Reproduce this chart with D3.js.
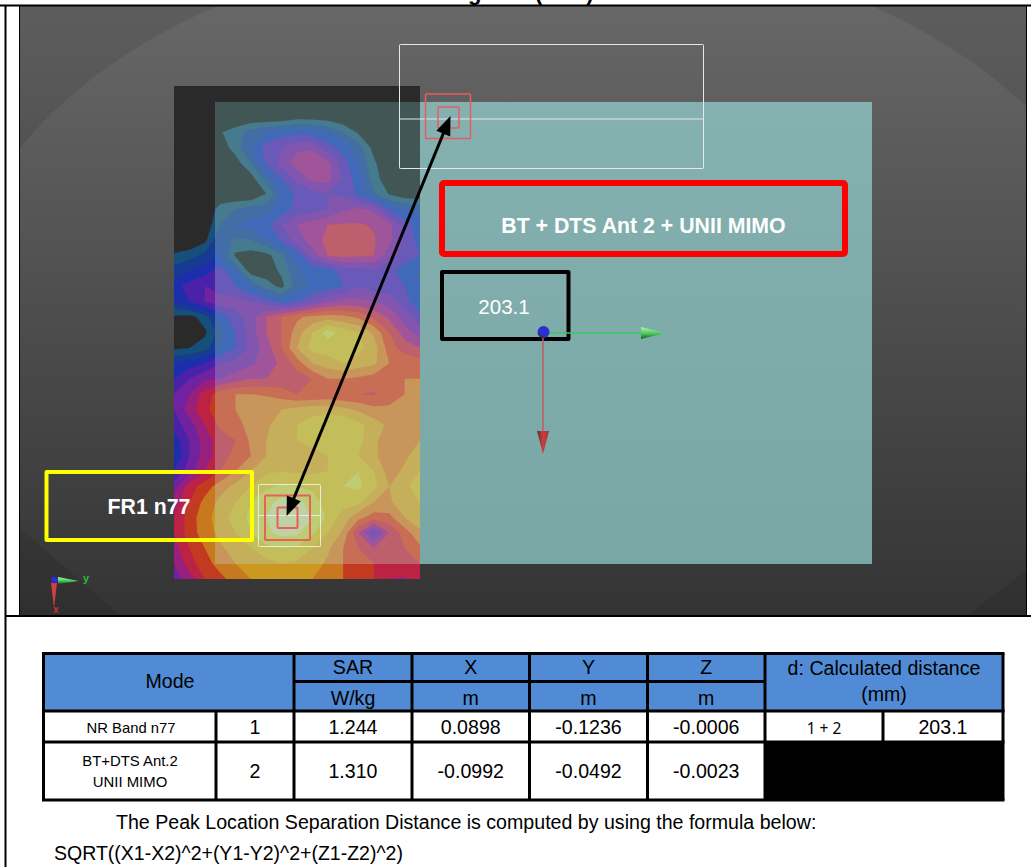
<!DOCTYPE html>
<html><head><meta charset="utf-8">
<script src="https://cdnjs.cloudflare.com/ajax/libs/d3/7.8.5/d3.min.js"></script>
<style>html,body{margin:0;padding:0;background:#fff;overflow:hidden}svg{display:block}text{font-family:"Liberation Sans",Arial,sans-serif}</style>
</head><body><svg id="c" width="1031" height="867"></svg>
<script>
// ---- data ----
const titleText = ["Figure", "(33-3)"];
const lowLabel = "FR1 n77";
const highLabel = "BT + DTS Ant 2 + UNII MIMO";
const distanceLabel = "203.1";
const modeHeader = "Mode";
const topHeaders = ["SAR", "X", "Y", "Z"];
const unitHeaders = ["W/kg", "m", "m", "m"];
const distHeader = ["d: Calculated distance", "(mm)"];
const modeNames = [["NR Band n77"], ["BT+DTS Ant.2", "UNII MIMO"]];
const modeIds = ["1", "2"];
const sarValues = ["1.244", "1.310"];
const xValues = ["0.0898", "-0.0992"];
const yValues = ["-0.1236", "-0.0492"];
const zValues = ["-0.0006", "-0.0023"];
const pairLabel = "1 + 2";
const pairDistance = "203.1";
const noteLines = ["The Peak Location Separation Distance is computed by using the formula below:", "SQRT((X1-X2)^2+(Y1-Y2)^2+(Z1-Z2)^2)"];
// SAR contour level per scan grid point (17 columns, 33 rows)
const sarGrid = [
[0,0,0,0,0,0,0,0,0,0,0,0,0,0,0,0,0],
[0,0,0,0,0,0,0,0,0,0,0,0,0,0,0,0,0],
[0,0,0,0,0,0,0,0,.5,.5,.3,0,0,0,0,0,0],
[0,0,0,.9,1.5,2.5,3,3.5,3.7,3.5,3,2,.8,0,0,0,0],
[0,0,0,.3,1.5,3,4.5,5,5.8,5.8,4.5,3.5,2.5,.6,0,0,0],
[0,0,0,0,.5,2,4.2,5.3,6.5,6.8,6.3,4.5,3,1.2,0,0,0],
[0,0,0,0,0,.5,2.5,4,5.3,6.3,6.4,4.8,3.5,1.5,.2,0,0],
[0,0,0,0,0,0,1,3,4.3,4.6,5,4.8,3.7,2.2,.9,.2,0],
[0,0,0,1.5,2,2.4,2.6,3.5,4.3,4.6,5,5.8,6.2,5.8,3.8,3,2.8],
[0,0,.2,2,3,3.4,3.6,5,6,6.5,7,7.1,7.1,6.9,6.3,4.5,3.4],
[0,0,.7,3,1.8,2,3,4.2,5.5,6.5,7.3,7.5,7.4,7.1,6.3,4.8,3.5],
[1.2,1.6,2.3,3.2,.8,.5,.6,1.8,3.5,5.5,7,7.3,7.2,7,5.5,4.5,4],
[2.5,3,3.5,4.5,3,.4,.4,1.2,2.8,3.3,3.4,4.5,4.5,4.8,4.3,3.5,2.8],
[3.5,4.5,5,4.5,4,3,1.5,.7,2.5,3.2,3.5,4,5,4.5,4.5,4,3],
[3,4,5,5.5,5.5,5,4.5,3.5,4,5,5.8,6.3,6.3,6,5.5,4.5,3],
[.8,.6,1.5,3.5,4.5,5.5,7,8,8.8,9.3,9.5,9.3,8.8,7.8,6.8,5.5,4.5],
[.3,.4,.8,2.5,4,5.5,7,8,9.5,11,12.5,11.5,11,9.8,8,6.5,5.5],
[.8,1,1.5,3,4,5.3,6.5,8,10,11.4,11.5,11.4,11.3,10.5,8.5,7.5,7],
[3,3.5,4,5,5.3,5.8,6.5,7.2,8.5,10,10.5,11,10.5,10.2,9,8.8,8.5],
[4,5,5.8,6,6.5,7,7,7.3,7.5,8,9,9,8.8,8.5,8.8,9,9],
[5,6,7.5,8.5,9,9,8.9,8.5,8,8,8.2,8,8,7.9,8.5,9,9.2],
[5,6.5,7.8,8.5,9,9.3,9.6,10,10.3,10.6,10.6,10.3,9.8,9.3,9.2,9.2,9.5],
[4.5,5.5,7,8.2,8.8,9.2,9.8,10.5,11,11.5,12,12,11.3,10.5,9.8,9.6,9.7],
[3.5,5,6.5,7.5,8,9.2,10,10.5,11,11.2,11.5,11.8,11.3,10.3,9.2,9.5,10],
[3,5,6.5,7.5,8.3,9,10,10.5,10.7,10.8,11,11.2,11,10.3,9,9.8,10.5],
[4,5.5,7,8,9,10,10.8,11,10.8,10.8,11,11.8,12,11,9.5,10.2,11],
[5.5,7.5,8.5,9.5,10.3,11,11.8,12.2,12,11.8,11.5,12,12.2,11.3,10,10.8,11.5],
[6.5,8,9.3,10.3,11,12,12.7,13.3,13.3,12.5,11.5,11.5,11.3,10,9.8,10.8,11],
[7,8.5,9.6,10.5,11.5,12.2,13,13.8,13.8,13,11.8,10.5,9.3,8.5,8.7,10,10.7],
[7,8.5,9.5,10.3,11,12,12.8,13.3,13.2,12.2,11,9.8,7,4.5,7,8.5,9.8],
[6.5,8,9,9.8,10.5,11,11.8,12,11.8,11,10.2,9,8,7,7.7,8,8.8],
[6,7.5,8.7,9.3,10,10.3,10.6,11,10.8,10.5,9.8,9,8.2,8,7.2,7.5,8],
[5.5,6.5,8,8.8,9.3,10,10,10,10,10,9.5,9,8.2,8,7,6.9,7.8]
];
const levels = [1,2,3,4,5,6,7,8,9,10,11,12,13];
const rawColors = ["#16507a","#173a92","#1d2eac","#4a22aa","#7022a0","#98207c","#bc2244","#c23a20","#c8781e","#cc9820","#d2b42a","#d0cc5e","#d0d898"];
const washedColors = ["#467a8e","#436ea5","#4169b9","#695ab9","#8255af","#a0559b","#be5f6e","#c86e55","#c8965a","#c6af5a","#c3be5a","#becd73","#bed2a5"];
// peak positions in picture pixels, as measured
const peakHigh = [450.5, 116];
const peakLow = [286.6, 516];

// ---- drawing ----
const svg = d3.select("#c");
const defs = svg.append("defs");
function grad(id, x2, y2, stops){
  const g = defs.append("linearGradient").attr("id", id).attr("x1",0).attr("y1",0).attr("x2",x2).attr("y2",y2);
  stops.forEach(s => g.append("stop").attr("offset", s[0]).attr("stop-color", s[1]));
}
grad("bg",0,1,[[0,"#676767"],[1,"#343434"]]);
grad("teal",0,1,[[0,"#85b1b0"],[1,"#78a7a6"]]);
grad("gc",0,1,[[0,"#b4f5a8"],[.55,"#4ac85a"],[1,"#175c2a"]]);
grad("rc",1,0,[[0,"#5a3030"],[.5,"#c84040"],[1,"#a83030"]]);
defs.append("clipPath").attr("id","mapClip").append("path").attr("d","M174,86H420V102H215V564H420V579H174Z");
defs.append("clipPath").attr("id","phantomClip").append("rect").attr("x",215).attr("y",102).attr("width",205).attr("height",462);
defs.append("clipPath").attr("id","imgClip").append("rect").attr("x",20).attr("y",6).attr("width",1006).attr("height",609);

// title clipped by the page top
const tt = svg.append("text").attr("x",448.5).attr("y",0).attr("font-size",22).attr("font-weight","bold").attr("fill","#000");
tt.append("tspan").text(titleText[0]);
tt.append("tspan").attr("x",535).text(titleText[1]);

// picture backdrop
const img = svg.append("g").attr("clip-path","url(#imgClip)");
img.append("rect").attr("x",20).attr("y",6).attr("width",1006).attr("height",609).attr("fill","url(#bg)");
[ "M20,148 Q90,62 217,6 L20,6Z",
  "M872,6 Q960,45 1026,106 L1026,6Z",
  "M20,528 L120,615 L20,615Z",
  "M967,615 L1026,571 L1026,615Z"
].forEach(d => img.append("path").attr("d",d).attr("fill","#000").attr("opacity",.09));

// SAR map
const nx = sarGrid[0].length, ny = sarGrid.length;
const sx = d3.scaleLinear().domain([.5, nx-.5]).range([174,420]);
const sy = d3.scaleLinear().domain([.5, ny-.5]).range([86,579]);
const rawColor = d3.scaleOrdinal().domain(levels).range(rawColors);
const washedColor = d3.scaleOrdinal().domain(levels).range(washedColors);
img.append("rect").attr("x",174).attr("y",86).attr("width",246).attr("height",493).attr("fill","#2a2a2a");
img.append("rect").attr("x",215).attr("y",102).attr("width",205).attr("height",462).attr("fill","#425755");
const contours = d3.contours().size([nx,ny]).smooth(true).thresholds(levels)(sarGrid.flat());
const geo = d3.geoPath(d3.geoTransform({point(x,y){this.stream.point(sx(x),sy(y));}}));
img.append("g").attr("clip-path","url(#mapClip)").selectAll("path").data(contours).join("path")
  .attr("d",geo).attr("fill",d=>rawColor(d.value));
img.append("g").attr("clip-path","url(#phantomClip)").selectAll("path").data(contours).join("path")
  .attr("d",geo).attr("fill",d=>washedColor(d.value));
// phantom
img.append("rect").attr("x",420).attr("y",102).attr("width",452).attr("height",462).attr("fill","url(#teal)");

// scan volumes
function box(x0,y0,x1,y1,stroke,w,rx){
  return img.append("rect").attr("x",x0).attr("y",y0).attr("width",x1-x0).attr("height",y1-y0).attr("rx",rx||.8)
    .attr("fill","none").attr("stroke",stroke).attr("stroke-width",w);
}
const hl = (x0,x1,y,c,w)=>img.append("line").attr("x1",x0).attr("x2",x1).attr("y1",y).attr("y2",y).attr("stroke",c).attr("stroke-width",w);
box(399.5,44.5,703.5,168.5,"#e4e8e8",1); hl(399.5,703.5,119,"#e4e8e8",1);
box(425.5,94,470.5,138.5,"#e85c62",1.5); box(438,107,459,128,"#e85c62",1.5);
box(258.5,484.5,320.5,546.5,"#e8ecd8",1); hl(258.5,320.5,515.5,"#e8ecd8",1);
box(265,495.5,310,540,"#e8605c",2); box(277.5,507.5,297.5,528,"#e8605c",2);

// annotations
box(442,183,845,254,"#ff0000",6,2);
box(442,272,568.5,339,"#000",4,.1);
box(46.5,472,252,540,"#ffff00",4,.1);
img.append("text").attr("x",643.5).attr("y",232.5).attr("text-anchor","middle").attr("font-size",21.3).attr("font-weight","bold").attr("fill","#fff").text(highLabel);
img.append("text").attr("x",504).attr("y",314).attr("text-anchor","middle").attr("font-size",20.5).attr("fill","#fff").text(distanceLabel);
img.append("text").attr("x",149).attr("y",514).attr("text-anchor","middle").attr("font-size",21.3).attr("font-weight","bold").attr("fill","#fff").text(lowLabel);

// coordinate triad on phantom
img.append("line").attr("x1",549).attr("x2",642).attr("y1",333).attr("y2",333).attr("stroke","#3ec85e").attr("stroke-width",1.5);
img.append("polygon").attr("points","641,327 665,333 641,339").attr("fill","url(#gc)");
img.append("line").attr("x1",543).attr("x2",543).attr("y1",338).attr("y2",432).attr("stroke","#c25c5c").attr("stroke-width",1.5);
img.append("polygon").attr("points","537,431 549,431 543,454").attr("fill","url(#rc)");
img.append("circle").attr("cx",543.5).attr("cy",332).attr("r",6).attr("fill","#2a2fd0");
img.append("path").attr("d","M537.6,333 A6,6 0 0 0 545,337.8 Z").attr("fill","#33344a");

// small triad
img.append("line").attr("x1",54).attr("x2",60).attr("y1",580).attr("y2",580).attr("stroke","#3ec85e");
img.append("polygon").attr("points","58,577 79,581 58,584").attr("fill","url(#gc)");
img.append("polygon").attr("points","51,583 57,583 54,608").attr("fill","#d04040");
img.append("circle").attr("cx",54.5).attr("cy",580).attr("r",3.2).attr("fill","#2a2fd0");
img.append("text").attr("x",83).attr("y",582).attr("font-size",11).attr("font-weight","bold").attr("fill","#22c030").text("y");
img.append("text").attr("x",53).attr("y",613).attr("font-size",10).attr("font-weight","bold").attr("fill","#d03030").text("x");

// separation arrow
(function(){
  const a = peakHigh, b = peakLow, L = Math.hypot(a[0]-b[0],a[1]-b[1]);
  const ux=(a[0]-b[0])/L, uy=(a[1]-b[1])/L, hl=19, hw=7.5;
  img.append("line").attr("x1",b[0]+ux*10).attr("y1",b[1]+uy*10).attr("x2",a[0]-ux*10).attr("y2",a[1]-uy*10).attr("stroke","#000").attr("stroke-width",3);
  [[a,1],[b,-1]].forEach(([p,s])=>{
    const bx=p[0]-s*ux*hl, by=p[1]-s*uy*hl;
    img.append("polygon").attr("points",[[p[0],p[1]],[bx-uy*hw,by+ux*hw],[bx+uy*hw,by-ux*hw]].join(" ")).attr("fill","#000");
  });
})();

// page frame
const frame = (x1,y1,x2,y2,w)=>svg.append("line").attr("x1",x1).attr("y1",y1).attr("x2",x2).attr("y2",y2).attr("stroke","#000").attr("stroke-width",w);
frame(0,5.5,1031,5.5,2);
frame(5.5,5,5.5,867,2);
frame(19.5,6,19.5,615,1);
frame(1026.5,6,1026.5,615,1);
frame(5,616,1031,616,2);

// table
const T = svg.append("g");
const cols = [43.5,216,294,412,529.5,647.5,765,883,1003];
const rows = [653.5,681.5,711,742,800];
const fillRect=(x0,y0,x1,y1,c)=>T.append("rect").attr("x",x0).attr("y",y0).attr("width",x1-x0).attr("height",y1-y0).attr("fill",c);
fillRect(cols[0],rows[0],cols[8],rows[2],"#528bd5");
fillRect(cols[6],rows[3],cols[8],rows[4],"#000");
const rule=(x1,y1,x2,y2)=>T.append("line").attr("x1",x1).attr("y1",y1).attr("x2",x2).attr("y2",y2).attr("stroke","#000").attr("stroke-width",3);
[0,2,3,4].forEach(i=>rule(cols[0]-1.5,rows[i],cols[8]+1.5,rows[i]));
rule(cols[2],rows[1],cols[6],rows[1]);
[0,8].forEach(i=>rule(cols[i],rows[0],cols[i],rows[4]));
[2,3,4,5,6].forEach(i=>rule(cols[i],rows[0],cols[i],rows[4]));
rule(cols[1],rows[2],cols[1],rows[4]);
rule(cols[7],rows[2],cols[7],rows[3]);
const label=(x,y,s,fs,fam)=>{const t=T.append("text").attr("x",x).attr("y",y).attr("text-anchor","middle").attr("font-size",fs).attr("fill","#000").text(s); if(fam)t.style("font-family",fam);};
const mid=i=>(cols[i]+cols[i+1])/2;
const hfs=19.6;
label(170,688,modeHeader,hfs);
topHeaders.forEach((s,i)=>label(mid(i+2),674,s,hfs));
unitHeaders.forEach((s,i)=>label(mid(i+2),705,s,hfs));
label(884,675,distHeader[0],hfs);
label(884,700.5,distHeader[1],hfs);
label(131,733,modeNames[0][0],14.8);
label(130,766,modeNames[1][0],14.9);
label(130,787,modeNames[1][1],14.9);
const rowY=[734,778];
modeIds.forEach((s,i)=>label(mid(1),rowY[i],s,hfs));
[sarValues,xValues,yValues,zValues].forEach((arr,c)=>arr.forEach((s,i)=>label(mid(c+2),rowY[i],s,hfs)));
label(mid(6),734,pairLabel,15.5,"'Noto Sans'");
label(mid(7),734,pairDistance,hfs);
svg.append("text").attr("x",116).attr("y",829).attr("font-size",19.6).attr("fill","#000").text(noteLines[0]);
svg.append("text").attr("x",54).attr("y",860).attr("font-size",19.5).attr("fill","#000").text(noteLines[1]);
</script></body></html>
